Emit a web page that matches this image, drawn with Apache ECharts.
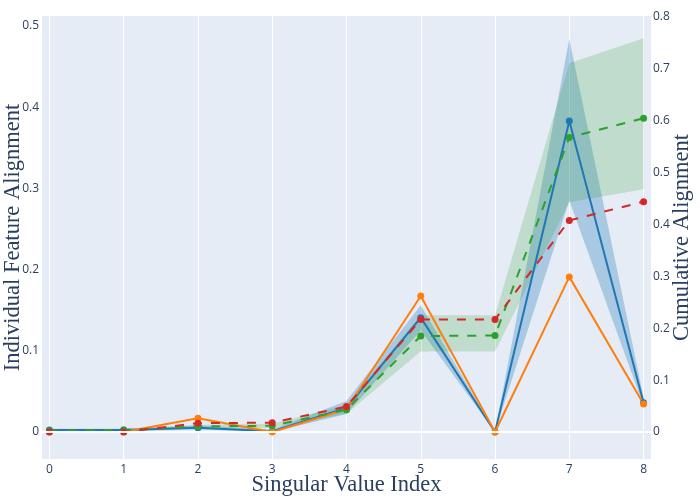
<!DOCTYPE html>
<html>
<head>
<meta charset="utf-8">
<script src="https://cdn.jsdelivr.net/npm/echarts@6/dist/echarts.min.js"></script>
<style>html,body{margin:0;padding:0;background:#fff}#c{width:700px;height:500px}</style>
</head>
<body>
<div id="c"></div>
<script>
// ---- data ----
const indices = [0, 1, 2, 3, 4, 5, 6, 7, 8];
const xTicks = [0, 1, 2, 3, 4, 5, 6, 7, 8];
const leftTicks = [0, 0.1, 0.2, 0.3, 0.4, 0.5];
const rightTicks = [0, 0.1, 0.2, 0.3, 0.4, 0.5, 0.6, 0.7, 0.8];

// individual (left axis)
const blueVals   = [0.0025, 0.0025, 0.0053, 0.001, 0.0296, 0.1408, 0, 0.383, 0.036];
const blueLow    = [0.001, 0.001, 0.003, 0.0, 0.022, 0.125, 0, 0.285, 0.032];
const blueHigh   = [0.004, 0.004, 0.008, 0.003, 0.038, 0.156, 0, 0.484, 0.042];
const orangeVals = [0, 0, 0.0168, 0, 0.028, 0.1675, 0, 0.191, 0.0345];

// cumulative (right axis)
const greenVals = [0.0025, 0.004, 0.011, 0.012, 0.043, 0.185, 0.186, 0.568, 0.605];
const greenLow  = [0.002, 0.003, 0.008, 0.008, 0.035, 0.155, 0.155, 0.443, 0.468];
const greenHigh = [0.003, 0.005, 0.014, 0.016, 0.052, 0.225, 0.225, 0.711, 0.759];
const redVals   = [0, 0, 0.017, 0.018, 0.049, 0.217, 0.217, 0.408, 0.444];

// ---- build ----
const pairs = (ys) => indices.map((x, i) => [x, ys[i]]);
const fmt = v => String(Math.round(v * 10) / 10);
const tickFont = { fontFamily: 'Open Sans', fontSize: 12, color: '#2a3f5f' };
const titleFont = { fontFamily: 'Liberation Serif', fontSize: 22.5, color: '#2a3f5f' };

const bandSeries = (lo, hi, color, yIdx) => ({
  type: 'custom', yAxisIndex: yIdx, silent: true, clip: true,
  data: [[indices[0], lo[0]]],
  renderItem: (params, api) => {
    const pts = [];
    for (let i = 0; i < indices.length; i++) pts.push(api.coord([indices[i], hi[i]]));
    for (let i = indices.length - 1; i >= 0; i--) pts.push(api.coord([indices[i], lo[i]]));
    return { type: 'polygon', shape: { points: pts }, style: { fill: color } };
  }
});

const lineSeries = (name, ys, color, yIdx, dashed) => ({
  name: name, type: 'line', yAxisIndex: yIdx, data: pairs(ys),
  symbol: 'circle', symbolSize: 7, showSymbol: true,
  itemStyle: { color: color },
  lineStyle: { color: color, width: 2, type: dashed ? [9, 9] : 'solid' },
  silent: true
});

const chart = echarts.init(document.getElementById('c'), null, { renderer: 'canvas' });
chart.setOption({
  animation: false,
  backgroundColor: '#ffffff',
  grid: { left: 42, right: 49, top: 16, bottom: 41, show: true, backgroundColor: '#e5ecf6', borderWidth: 0,
          containLabel: false, outerBoundsMode: 'none' },
  xAxis: {
    type: 'value', min: -0.1, max: 8.1,
    name: 'Singular Value Index', nameLocation: 'middle', nameGap: 15, nameMoveOverlap: false,
    nameTextStyle: Object.assign({ verticalAlign: 'top' }, titleFont),
    axisLine: { show: false },
    axisTick: { show: false, customValues: xTicks },
    axisLabel: Object.assign({ customValues: xTicks, margin: 5, formatter: v => String(v) }, tickFont),
    splitLine: { show: true, lineStyle: { color: '#ffffff', width: 1 } }
  },
  yAxis: [
    {
      type: 'value', min: -0.0333, max: 0.5123, position: 'left',
      name: 'Individual Feature Alignment', nameLocation: 'middle', nameGap: 29, nameMoveOverlap: false,
      nameTextStyle: Object.assign({ verticalAlign: 'middle' }, titleFont),
      axisLine: { show: false },
      axisTick: { show: false, customValues: leftTicks },
      axisLabel: Object.assign({ customValues: leftTicks, margin: 3, formatter: fmt }, tickFont),
      splitLine: { show: false }
    },
    {
      type: 'value', min: -0.052, max: 0.802, position: 'right',
      name: 'Cumulative Alignment', nameLocation: 'middle', nameGap: 31, nameMoveOverlap: false,
      nameTextStyle: Object.assign({ verticalAlign: 'middle' }, titleFont),
      axisLine: { show: false },
      axisTick: { show: false, customValues: rightTicks },
      axisLabel: Object.assign({ customValues: rightTicks, margin: 2, formatter: fmt }, tickFont),
      splitLine: { show: false }
    }
  ],
  series: [
    {
      type: 'line', yAxisIndex: 0, data: pairs(blueVals), symbol: 'none',
      lineStyle: { opacity: 0 }, silent: true,
      markLine: {
        silent: true, symbol: ['none', 'none'], label: { show: false },
        lineStyle: { color: '#ffffff', width: 2, type: 'solid', opacity: 1 },
        data: [{ yAxis: 0 }]
      }
    },
    bandSeries(blueLow, blueHigh, 'rgba(31,119,180,0.3)', 0),
    lineSeries('blue', blueVals, '#1f77b4', 0, false),
    lineSeries('orange', orangeVals, '#ff7f0e', 0, false),
    bandSeries(greenLow, greenHigh, 'rgba(44,160,44,0.2)', 1),
    lineSeries('green', greenVals, '#2ca02c', 1, true),
    lineSeries('red', redVals, '#d62728', 1, true)
  ]
});
</script>
</body>
</html>
